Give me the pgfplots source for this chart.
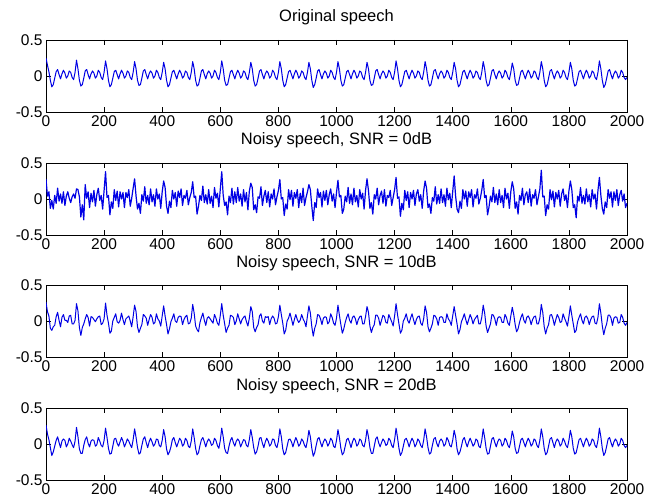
\documentclass[border=0pt]{standalone}
\usepackage{fontspec}
\setmainfont{Liberation Sans}
\usepackage{pgfplots}
\usepackage{pgfplotstable}
\pgfplotsset{compat=1.18}
\newcommand\tk{\fontsize{15.5}{18}\selectfont}
\newcommand\ttl{\fontsize{16.5}{19}\selectfont}
\definecolor{mblue}{rgb}{0,0,0.9}

% x, original (s), SNR 0dB (a), SNR 10dB (b), SNR 20dB (c)
\pgfplotstableread{
x s a b c
0 0.25 0.28 0.26 0.26
5 0.15 0.04 0.13 0.14
10 0.06 0.10 0.07 0.06
15 -0.06 -0.13 -0.10 -0.05
20 -0.15 -0.02 -0.13 -0.16
25 -0.12 -0.14 -0.08 -0.11
30 -0.03 0.05 -0.06 -0.03
35 0.06 -0.06 0.06 0.05
40 0.09 0.15 0.12 0.10
45 0.02 -0.03 0.01 0.02
50 -0.04 0.07 -0.08 -0.05
55 0.03 -0.06 0.05 0.04
60 0.08 0.10 0.09 0.07
65 0.04 -0.09 0.01 0.05
70 -0.03 0.04 0.01 -0.04
75 0.00 0.10 -0.02 0.00
80 0.07 0.01 0.07 0.08
85 0.05 -0.05 0.08 0.04
90 -0.02 0.03 -0.04 -0.01
95 -0.05 0.07 -0.04 -0.05
100 0.05 0.01 0.01 0.04
105 0.22 0.14 0.24 0.23
110 0.10 0.13 0.14 0.10
115 -0.06 0.03 -0.09 -0.07
120 -0.14 -0.25 -0.20 -0.13
125 -0.12 -0.08 -0.09 -0.13
130 -0.03 -0.29 -0.04 -0.02
135 0.07 0.20 0.03 0.06
140 0.09 0.01 0.09 0.10
145 0.02 0.10 0.05 0.01
150 -0.04 -0.12 -0.07 -0.04
155 0.03 0.08 0.06 0.04
160 0.07 -0.04 0.05 0.06
165 0.04 0.12 0.02 0.05
170 -0.03 -0.10 -0.01 -0.03
175 0.00 0.06 0.03 -0.01
180 0.08 0.15 0.06 0.09
185 0.05 -0.02 0.07 0.04
190 -0.02 0.05 -0.05 -0.02
195 -0.05 -0.14 -0.03 -0.04
200 0.05 0.12 0.03 0.05
205 0.21 0.38 0.25 0.22
210 0.10 0.02 0.08 0.09
215 -0.06 0.05 -0.03 -0.06
220 -0.15 -0.22 -0.17 -0.14
225 -0.12 -0.04 -0.14 -0.13
230 -0.03 -0.13 0.00 -0.03
235 0.06 0.13 0.05 0.07
240 0.08 -0.02 0.10 0.08
245 0.02 0.11 -0.01 0.01
250 -0.04 -0.11 -0.03 -0.03
255 0.03 0.10 0.01 0.03
260 0.08 0.00 0.11 0.09
265 0.04 0.09 0.02 0.04
270 -0.03 -0.12 -0.05 -0.04
275 0.00 0.09 0.03 0.01
280 0.07 0.02 0.05 0.07
285 0.05 0.13 0.07 0.04
290 -0.02 -0.10 0.00 -0.01
295 -0.05 0.01 -0.08 -0.05
300 0.05 0.15 0.06 0.06
305 0.20 0.28 0.22 0.21
310 0.10 0.04 0.13 0.09
315 -0.06 -0.14 -0.08 -0.05
320 -0.13 -0.06 -0.16 -0.14
325 -0.12 -0.20 -0.10 -0.12
330 -0.03 0.06 -0.05 -0.02
335 0.07 -0.03 0.09 0.07
340 0.09 0.17 0.07 0.10
345 0.02 -0.06 0.04 0.02
350 -0.04 0.05 -0.06 -0.05
355 0.03 -0.08 0.02 0.03
360 0.07 0.14 0.09 0.08
365 0.04 -0.04 0.05 0.03
370 -0.03 0.06 -0.04 -0.03
375 0.00 -0.10 -0.02 0.00
380 0.08 0.14 0.10 0.07
385 0.05 0.00 0.03 0.06
390 -0.02 0.07 0.00 -0.02
395 -0.05 -0.13 -0.07 -0.04
400 0.05 0.10 0.07 0.05
405 0.19 0.25 0.21 0.20
410 0.10 0.16 0.07 0.10
415 -0.06 -0.10 -0.05 -0.07
420 -0.15 -0.20 -0.18 -0.15
425 -0.12 -0.03 -0.11 -0.11
430 -0.03 -0.12 -0.01 -0.04
435 0.06 0.12 0.04 0.06
440 0.08 0.00 0.10 0.09
445 0.02 0.09 0.00 0.02
450 -0.04 -0.10 -0.02 -0.04
455 0.03 0.11 0.05 0.02
460 0.08 0.02 0.07 0.08
465 0.04 0.14 0.06 0.05
470 -0.03 -0.09 -0.05 -0.03
475 0.00 0.05 0.02 0.00
480 0.07 0.01 0.06 0.08
485 0.05 0.12 0.08 0.05
490 -0.02 -0.08 -0.04 -0.03
495 -0.05 0.02 -0.03 -0.05
500 0.05 0.09 0.04 0.04
505 0.20 0.24 0.23 0.21
510 0.10 0.02 0.11 0.09
515 -0.06 0.04 -0.07 -0.06
520 -0.14 -0.21 -0.12 -0.15
525 -0.12 -0.10 -0.15 -0.12
530 -0.03 0.05 -0.02 -0.02
535 0.07 -0.02 0.05 0.06
540 0.09 0.18 0.11 0.09
545 0.02 -0.05 0.01 0.03
550 -0.04 0.06 -0.06 -0.04
555 0.03 -0.07 0.04 0.03
560 0.07 0.13 0.06 0.07
565 0.04 -0.06 0.03 0.04
570 -0.03 0.04 0.00 -0.02
575 0.00 -0.12 -0.03 0.00
580 0.08 0.16 0.09 0.08
585 0.05 0.01 0.04 0.05
590 -0.02 0.08 -0.03 -0.02
595 -0.05 -0.11 -0.06 -0.06
600 0.05 0.14 0.08 0.05
605 0.21 0.38 0.24 0.22
610 0.10 0.05 0.08 0.10
615 -0.06 -0.09 -0.04 -0.06
620 -0.13 -0.04 -0.16 -0.12
625 -0.12 -0.22 -0.10 -0.13
630 -0.03 0.04 -0.06 -0.03
635 0.06 -0.05 0.08 0.05
640 0.08 0.15 0.07 0.09
645 0.02 -0.07 0.05 0.02
650 -0.04 0.10 -0.05 -0.03
655 0.03 -0.05 0.00 0.04
660 0.08 0.16 0.10 0.07
665 0.04 -0.03 0.03 0.04
670 -0.03 0.07 -0.04 -0.04
675 0.00 -0.10 0.02 0.01
680 0.07 0.13 0.05 0.06
685 0.05 -0.04 0.07 0.05
690 -0.02 0.09 -0.01 -0.02
695 -0.05 -0.15 -0.07 -0.04
700 0.05 0.11 0.04 0.06
705 0.19 0.22 0.20 0.20
710 0.10 0.16 0.13 0.09
715 -0.06 -0.15 -0.09 -0.05
720 -0.14 -0.08 -0.15 -0.14
725 -0.12 -0.19 -0.09 -0.11
730 -0.03 0.03 -0.05 -0.03
735 0.07 0.01 0.07 0.08
740 0.09 0.17 0.10 0.09
745 0.02 -0.09 0.00 0.01
750 -0.04 0.04 -0.03 -0.05
755 0.03 0.12 0.06 0.03
760 0.07 -0.05 0.05 0.08
765 0.04 0.10 0.06 0.04
770 -0.03 -0.11 -0.05 -0.03
775 0.00 0.07 0.03 0.00
780 0.08 0.00 0.07 0.07
785 0.05 0.14 0.04 0.06
790 -0.02 -0.08 -0.04 -0.02
795 -0.05 0.03 -0.03 -0.05
800 0.05 0.12 0.06 0.04
805 0.20 0.27 0.22 0.21
810 0.10 0.00 0.09 0.10
815 -0.06 0.02 -0.03 -0.07
820 -0.15 -0.23 -0.18 -0.15
825 -0.12 -0.07 -0.13 -0.12
830 -0.03 -0.14 0.00 -0.03
835 0.06 0.13 0.04 0.06
840 0.08 -0.01 0.11 0.07
845 0.02 0.12 0.03 0.03
850 -0.04 -0.10 -0.06 -0.04
855 0.03 0.09 0.02 0.03
860 0.08 0.01 0.09 0.09
865 0.04 0.13 0.02 0.04
870 -0.03 -0.12 -0.02 -0.03
875 0.00 0.08 0.01 0.00
880 0.07 -0.05 0.09 0.07
885 0.05 0.15 0.03 0.04
890 -0.02 -0.09 -0.01 -0.02
895 -0.05 0.02 -0.08 -0.05
900 0.05 0.10 0.07 0.05
905 0.19 0.20 0.21 0.19
910 0.10 0.13 0.11 0.10
915 -0.06 -0.10 -0.08 -0.06
920 -0.16 -0.30 -0.21 -0.17
925 -0.12 -0.05 -0.10 -0.12
930 -0.03 -0.12 -0.04 -0.02
935 0.07 0.14 0.09 0.07
940 0.09 0.02 0.08 0.09
945 0.02 0.09 0.03 0.02
950 -0.04 -0.11 -0.05 -0.04
955 0.03 0.11 0.04 0.03
960 0.07 -0.02 0.06 0.07
965 0.04 0.12 0.05 0.04
970 -0.03 -0.08 -0.04 -0.03
975 0.00 0.06 -0.01 0.01
980 0.08 0.14 0.10 0.08
985 0.05 -0.03 0.05 0.05
990 -0.02 0.07 -0.03 -0.03
995 -0.05 -0.12 -0.06 -0.05
1000 0.05 0.09 0.04 0.05
1005 0.20 0.26 0.22 0.20
1010 0.10 0.03 0.08 0.09
1015 -0.06 0.05 -0.05 -0.06
1020 -0.14 -0.20 -0.17 -0.15
1025 -0.12 -0.14 -0.11 -0.12
1030 -0.03 0.04 -0.02 -0.03
1035 0.06 -0.04 0.05 0.06
1040 0.08 0.16 0.10 0.08
1045 0.02 -0.06 0.01 0.02
1050 -0.04 0.07 -0.03 -0.05
1055 0.03 -0.08 0.05 0.03
1060 0.08 0.15 0.07 0.08
1065 0.04 -0.04 0.03 0.05
1070 -0.03 0.05 -0.05 -0.03
1075 0.00 -0.11 0.02 0.00
1080 0.07 0.13 0.06 0.07
1085 0.05 0.00 0.07 0.05
1090 -0.02 0.08 -0.04 -0.02
1095 -0.05 -0.14 -0.04 -0.04
1100 0.05 0.12 0.06 0.05
1105 0.19 0.28 0.20 0.20
1110 0.10 0.12 0.12 0.10
1115 -0.06 -0.13 -0.07 -0.05
1120 -0.13 -0.05 -0.16 -0.13
1125 -0.12 -0.21 -0.09 -0.13
1130 -0.03 0.06 -0.05 -0.03
1135 0.07 0.00 0.08 0.07
1140 0.09 0.15 0.08 0.10
1145 0.02 -0.08 0.04 0.02
1150 -0.04 0.05 -0.06 -0.04
1155 0.03 0.11 0.01 0.02
1160 0.07 -0.06 0.08 0.07
1165 0.04 0.13 0.06 0.04
1170 -0.03 -0.10 -0.02 -0.02
1175 0.00 0.05 -0.03 0.00
1180 0.08 0.02 0.09 0.08
1185 0.05 0.12 0.04 0.05
1190 -0.02 -0.09 -0.01 -0.02
1195 -0.05 0.02 -0.07 -0.05
1200 0.05 0.13 0.07 0.06
1205 0.21 0.30 0.24 0.22
1210 0.10 0.01 0.09 0.09
1215 -0.06 0.03 -0.04 -0.06
1220 -0.15 -0.24 -0.17 -0.16
1225 -0.12 -0.06 -0.13 -0.12
1230 -0.03 -0.15 0.00 -0.03
1235 0.06 0.12 0.04 0.06
1240 0.08 -0.02 0.10 0.08
1245 0.02 0.10 0.01 0.03
1250 -0.04 -0.12 -0.03 -0.04
1255 0.03 0.09 0.04 0.03
1260 0.08 0.00 0.10 0.08
1265 0.04 0.12 0.02 0.04
1270 -0.03 -0.09 -0.05 -0.04
1275 0.00 0.07 0.02 0.00
1280 0.07 0.13 0.06 0.07
1285 0.05 -0.03 0.07 0.04
1290 -0.02 0.06 -0.03 -0.02
1295 -0.05 -0.13 -0.06 -0.05
1300 0.05 0.11 0.03 0.05
1305 0.20 0.25 0.21 0.21
1310 0.10 0.15 0.12 0.10
1315 -0.06 -0.12 -0.08 -0.05
1320 -0.14 -0.07 -0.15 -0.14
1325 -0.12 -0.20 -0.10 -0.12
1330 -0.03 0.02 -0.04 -0.02
1335 0.07 -0.03 0.08 0.07
1340 0.09 0.17 0.07 0.09
1345 0.02 -0.07 0.03 0.01
1350 -0.04 0.06 -0.06 -0.04
1355 0.03 -0.06 0.05 0.04
1360 0.07 0.14 0.06 0.07
1365 0.04 -0.05 0.05 0.04
1370 -0.03 0.06 -0.02 -0.03
1375 0.00 -0.10 -0.02 0.00
1380 0.08 0.15 0.10 0.09
1385 0.05 -0.01 0.03 0.05
1390 -0.02 0.08 0.00 -0.02
1395 -0.05 -0.12 -0.06 -0.04
1400 0.05 0.10 0.07 0.05
1405 0.19 0.32 0.20 0.19
1410 0.10 0.04 0.08 0.10
1415 -0.06 -0.14 -0.04 -0.07
1420 -0.15 -0.19 -0.18 -0.15
1425 -0.12 -0.03 -0.12 -0.11
1430 -0.03 -0.13 -0.01 -0.03
1435 0.06 0.13 0.04 0.06
1440 0.08 0.00 0.10 0.09
1445 0.02 0.11 0.02 0.02
1450 -0.04 -0.10 -0.05 -0.04
1455 0.03 0.10 0.02 0.03
1460 0.08 0.02 0.09 0.08
1465 0.04 0.13 0.04 0.03
1470 -0.03 -0.11 -0.04 -0.03
1475 0.00 0.06 0.02 0.00
1480 0.07 0.01 0.05 0.07
1485 0.05 0.14 0.08 0.05
1490 -0.02 -0.07 -0.04 -0.03
1495 -0.05 0.01 -0.04 -0.05
1500 0.05 0.12 0.05 0.05
1505 0.20 0.27 0.22 0.21
1510 0.10 0.02 0.11 0.09
1515 -0.06 0.05 -0.07 -0.06
1520 -0.14 -0.22 -0.16 -0.14
1525 -0.12 -0.11 -0.10 -0.13
1530 -0.03 0.04 -0.04 -0.03
1535 0.07 -0.04 0.09 0.07
1540 0.09 0.16 0.08 0.09
1545 0.02 -0.05 0.03 0.02
1550 -0.04 0.07 -0.06 -0.04
1555 0.03 -0.08 0.04 0.03
1560 0.07 0.13 0.06 0.07
1565 0.04 -0.05 0.05 0.05
1570 -0.03 0.05 -0.02 -0.03
1575 0.00 -0.12 -0.02 0.00
1580 0.08 0.15 0.09 0.08
1585 0.05 0.00 0.05 0.05
1590 -0.02 0.08 -0.03 -0.02
1595 -0.05 -0.13 -0.06 -0.05
1600 0.05 0.10 0.07 0.04
1605 0.18 0.24 0.19 0.18
1610 0.10 0.14 0.09 0.10
1615 -0.06 -0.13 -0.05 -0.06
1620 -0.13 -0.04 -0.15 -0.13
1625 -0.12 -0.21 -0.11 -0.12
1630 -0.03 0.05 -0.02 -0.03
1635 0.06 -0.02 0.05 0.06
1640 0.08 0.15 0.10 0.08
1645 0.02 -0.08 0.01 0.02
1650 -0.04 0.06 -0.03 -0.04
1655 0.03 0.10 0.05 0.03
1660 0.08 -0.05 0.07 0.08
1665 0.04 0.14 0.03 0.04
1670 -0.03 -0.10 -0.05 -0.03
1675 0.00 0.06 0.02 0.00
1680 0.07 0.01 0.06 0.07
1685 0.05 0.13 0.07 0.05
1690 -0.02 -0.08 -0.04 -0.02
1695 -0.05 0.03 -0.04 -0.05
1700 0.05 0.14 0.04 0.05
1705 0.20 0.40 0.23 0.21
1710 0.10 0.03 0.12 0.10
1715 -0.06 0.04 -0.08 -0.06
1720 -0.15 -0.23 -0.18 -0.15
1725 -0.12 -0.08 -0.10 -0.12
1730 -0.03 -0.14 -0.05 -0.03
1735 0.07 0.13 0.08 0.07
1740 0.09 -0.01 0.09 0.09
1745 0.02 0.11 0.03 0.02
1750 -0.04 -0.11 -0.06 -0.05
1755 0.03 0.09 0.02 0.03
1760 0.07 0.00 0.09 0.07
1765 0.04 0.12 0.05 0.04
1770 -0.03 -0.10 -0.02 -0.03
1775 0.00 0.07 -0.01 0.00
1780 0.08 0.14 0.10 0.08
1785 0.05 -0.02 0.04 0.04
1790 -0.02 0.06 -0.01 -0.02
1795 -0.05 -0.12 -0.07 -0.05
1800 0.05 0.11 0.06 0.05
1805 0.19 0.25 0.21 0.19
1810 0.10 0.13 0.08 0.10
1815 -0.06 -0.12 -0.04 -0.06
1820 -0.14 -0.08 -0.16 -0.14
1825 -0.12 -0.26 -0.13 -0.12
1830 -0.03 0.04 -0.01 -0.03
1835 0.06 -0.03 0.05 0.06
1840 0.08 0.16 0.10 0.08
1845 0.02 -0.06 0.01 0.02
1850 -0.04 0.05 -0.04 -0.04
1855 0.03 -0.07 0.05 0.03
1860 0.08 0.14 0.07 0.08
1865 0.04 -0.04 0.03 0.04
1870 -0.03 0.06 -0.05 -0.03
1875 0.00 -0.11 0.02 0.00
1880 0.07 0.13 0.06 0.07
1885 0.05 0.00 0.07 0.05
1890 -0.02 0.07 -0.03 -0.02
1895 -0.05 -0.14 -0.04 -0.05
1900 0.05 0.12 0.05 0.05
1905 0.21 0.30 0.24 0.22
1910 0.10 0.05 0.11 0.10
1915 -0.06 -0.13 -0.07 -0.06
1920 -0.16 -0.21 -0.19 -0.16
1925 -0.12 -0.04 -0.10 -0.12
1930 -0.03 -0.12 -0.04 -0.03
1935 0.07 0.13 0.08 0.07
1940 0.09 0.01 0.08 0.09
1945 0.02 0.10 0.04 0.02
1950 -0.04 -0.11 -0.06 -0.04
1955 0.03 0.10 0.04 0.03
1960 0.07 -0.02 0.06 0.07
1965 0.04 0.13 0.05 0.04
1970 -0.03 -0.09 -0.03 -0.03
1975 0.00 0.06 -0.02 0.00
1980 0.08 0.12 0.09 0.08
1985 0.05 -0.03 0.05 0.05
1990 -0.02 0.07 -0.03 -0.02
1995 -0.05 -0.12 -0.06 -0.05
2000 -0.02 -0.06 -0.02 -0.02
}\sig

\pgfplotsset{
  sp/.style={
    scale only axis, width=581pt, height=72pt, anchor=south west,
    xmin=0, xmax=2000, ymin=-0.5, ymax=0.5,
    xtick={0,200,...,2000},
    xticklabels={0,200,400,600,800,1000,1200,1400,1600,1800,2000},
    ytick={-0.5,0,0.5}, yticklabels={-0.5,0,0.5},
    tick align=inside, xtick pos=both, ytick pos=both,
    major tick length=5pt,
    axis line style={black, line width=0.5pt},
    every tick/.style={black, line width=0.5pt},
    tick label style={font=\tk, text=black},
    title style={at={(0.5,1)}, anchor=base, yshift=12pt, font=\ttl},
  },
  wave/.style={color=mblue, line width=1pt, line join=round, no markers},
}

\begin{document}
\begin{tikzpicture}
\path[use as bounding box, fill=white] (0,0) rectangle (647pt,501pt);
\begin{axis}[sp, at={(46pt,389pt)}, title={Original speech}]
  \addplot[wave] table[x=x, y=s] {\sig};
\end{axis}
\begin{axis}[sp, at={(46pt,266pt)}, title={Noisy speech, SNR = 0dB}]
  \addplot[wave, line width=1.2pt] table[x=x, y=a] {\sig};
\end{axis}
\begin{axis}[sp, at={(46pt,144pt)}, title={Noisy speech, SNR = 10dB}]
  \addplot[wave] table[x=x, y=b] {\sig};
\end{axis}
\begin{axis}[sp, at={(46pt,21pt)}, title={Noisy speech, SNR = 20dB}]
  \addplot[wave] table[x=x, y=c] {\sig};
\end{axis}
\end{tikzpicture}
\end{document}
